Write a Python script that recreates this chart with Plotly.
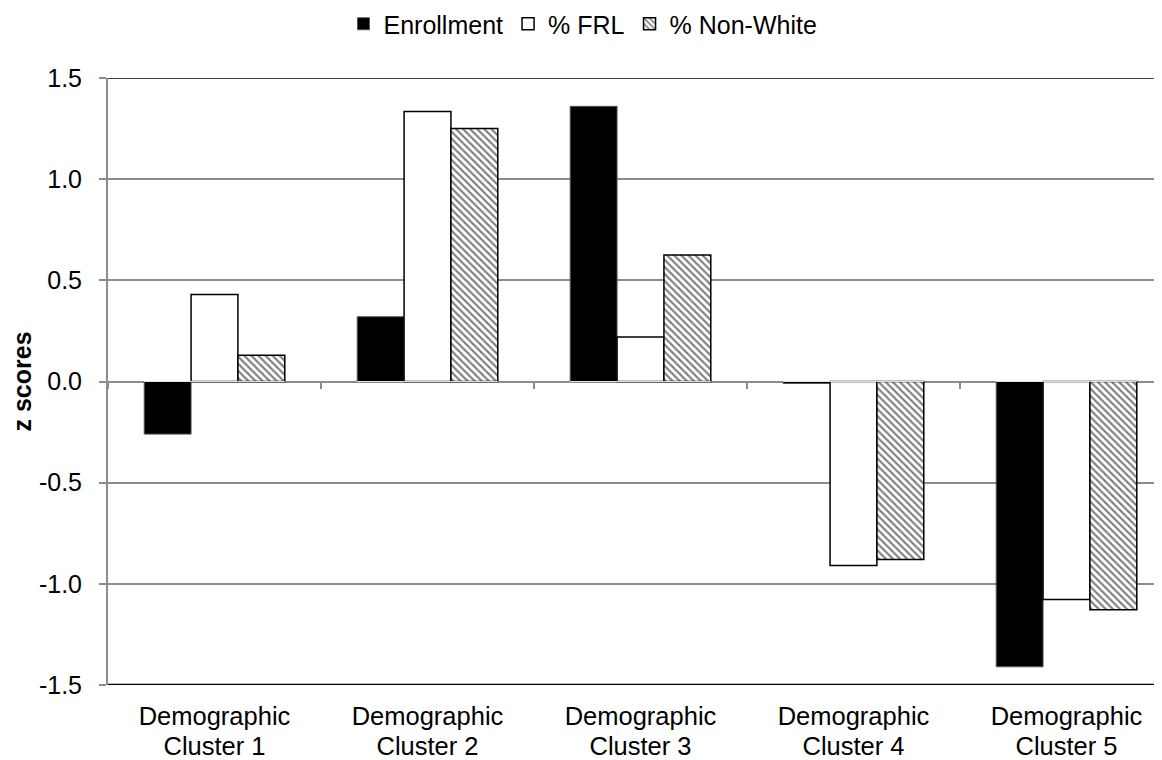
import plotly.graph_objects as go

categories = ["Demographic<br>Cluster 1", "Demographic<br>Cluster 2", "Demographic<br>Cluster 3",
              "Demographic<br>Cluster 4", "Demographic<br>Cluster 5"]
label_line1 = ["Demographic"] * 5
label_line2 = ["Cluster 1", "Cluster 2", "Cluster 3", "Cluster 4", "Cluster 5"]
enrollment = [-0.26, 0.32, 1.36, -0.01, -1.41]
frl = [0.43, 1.335, 0.22, -0.91, -1.078]
non_white = [0.13, 1.25, 0.625, -0.88, -1.128]
y_ticks = [-1.5, -1.0, -0.5, 0.0, 0.5, 1.0, 1.5]

FONT = "Liberation Sans, Arial, sans-serif"

fig = go.Figure()
fig.add_trace(go.Bar(x=categories, y=enrollment, name="Enrollment",
                     marker=dict(color="black", line=dict(color="#555555", width=1))))
fig.add_trace(go.Bar(x=categories, y=frl, name="% FRL",
                     marker=dict(color="white", line=dict(color="black", width=1.5))))
fig.add_trace(go.Bar(x=categories, y=non_white, name="% Non-White",
                     marker=dict(color="white", line=dict(color="black", width=1.5),
                                 pattern=dict(shape="\\", fgcolor="black", bgcolor="white",
                                              size=5, solidity=0.42))))
# invisible helper traces for the extra category axes
for ax in ("x2", "x3"):
    fig.add_trace(go.Bar(x=categories, y=[0]*5, xaxis=ax, showlegend=False,
                         hoverinfo="skip", marker=dict(color="rgba(0,0,0,0)")))

n = len(categories)
xrange = [-0.5, -0.5 + 1062 / 213]
fig.update_layout(
    width=1162, height=760,
    margin=dict(l=100, r=0, t=70, b=83, autoexpand=False),
    paper_bgcolor="white", plot_bgcolor="white",
    font=dict(family=FONT, size=25, color="black"),
    barmode="group", bargap=0.34, bargroupgap=0,
    showlegend=True,
    legend=dict(orientation="h", x=0.5 - 6 / 1162, xref="container", xanchor="center",
                y=1 - 16 / 760, yref="container", yanchor="middle",
                font=dict(size=25), traceorder="normal", itemwidth=30),
    xaxis=dict(type="category", range=xrange, showgrid=False,
               tickvals=categories, ticktext=label_line1,
               ticks="", showline=False, tickfont=dict(size=25.5), zeroline=False,
               ticklabelstandoff=13),
    xaxis2=dict(type="category", overlaying="x", anchor="free", position=0.5,
                matches="x", showticklabels=False, ticks="outside", tickson="boundaries",
                ticklen=6, tickwidth=1.5, tickcolor="#8c8c8c", showline=False, showgrid=False),
    xaxis3=dict(type="category", overlaying="x", anchor="free", position=0,
                matches="x", tickvals=categories, ticktext=label_line2,
                ticks="", showline=False, showgrid=False, zeroline=False,
                tickfont=dict(size=25.5), ticklabelstandoff=43),
    yaxis=dict(range=[-1.5, 1.5], tickvals=y_ticks, ticktext=[f"{v:.1f}" for v in y_ticks],
               showgrid=True, gridcolor="#8c8c8c", gridwidth=1.5,
               zeroline=True, zerolinecolor="#8c8c8c", zerolinewidth=1.5,
               showline=True, linecolor="#8c8c8c", linewidth=2,
               ticks="outside", ticklen=7, tickwidth=1.5, tickcolor="#8c8c8c",
               tickfont=dict(size=25), ticklabelstandoff=12,
               title=dict(text="<b>z scores</b>", font=dict(size=25), standoff=8)),
)
# top and bottom plot border lines (black)
fig.add_shape(type="line", xref="paper", yref="y", x0=0, x1=1, y0=1.5, y1=1.5,
              line=dict(color="black", width=1.5))
fig.add_shape(type="line", xref="paper", yref="y", x0=0, x1=1, y0=-1.5, y1=-1.5,
              line=dict(color="black", width=2.5))

fig.write_html("out.html")
